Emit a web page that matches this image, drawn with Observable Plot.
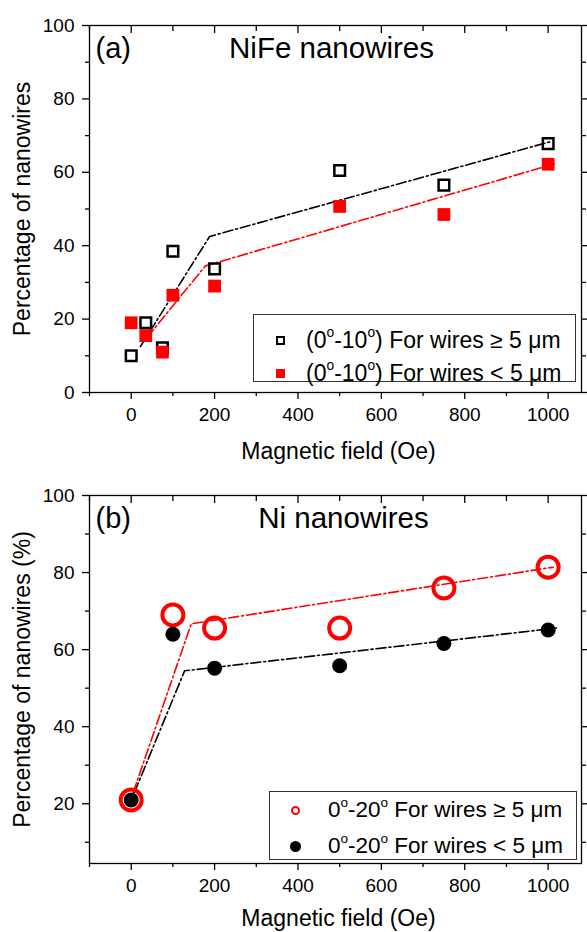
<!DOCTYPE html>
<html><head><meta charset="utf-8">
<script src="https://cdn.jsdelivr.net/npm/d3@7"></script>
<script src="https://cdn.jsdelivr.net/npm/@observablehq/plot@0.6"></script>
<style>
html,body{margin:0;padding:0;background:#fff;}
#wrap{position:relative;width:587px;height:932px;font-family:"Liberation Sans",Arial,sans-serif;color:#000;}
#wrap svg{display:block;}
.legend{position:absolute;box-sizing:border-box;border:1.4px solid #333;background:#fff;}
.row{position:absolute;left:0;white-space:nowrap;line-height:1;}
.row .mk{position:absolute;box-sizing:border-box;}
.row .tx{position:absolute;top:-0.5em;}
.row sup{font-size:0.6em;vertical-align:0;position:relative;top:-0.75em;}
</style>
</head><body>
<div id="wrap"></div>
<script>
// ---------- data ----------
const xTicks = [0, 200, 400, 600, 800, 1000];
const xMinor = [-100, 100, 300, 500, 700, 900];
const yTicksA = [0, 20, 40, 60, 80, 100];
const yTicksB = [20, 40, 60, 80, 100];
const yMinor = [10, 30, 50, 70, 90];

// panel (a) NiFe nanowires
const fieldA = [0, 35, 75, 100, 200, 500, 750, 1000];
const nifeLarge = [10, 19, 12.2, 38.5, 33.7, 60.5, 56.5, 67.8];
const nifeSmall = [19, 15.5, 11, 26.5, 29, 50.7, 48.5, 62.2];
const nifeLargeFitX = [22, 188, 1010];
const nifeLargeFitY = [12.5, 42.5, 68.5];
const nifeSmallFitX = [38, 178, 1015];
const nifeSmallFitY = [15, 34.5, 62.3];
const legendA = ["(0<sup>o</sup>-10<sup>o</sup>) For wires \u2265 5 \u03bcm", "(0<sup>o</sup>-10<sup>o</sup>) For wires &lt; 5 \u03bcm"];

// panel (b) Ni nanowires
const fieldB = [0, 100, 200, 500, 750, 1000];
const niLarge = [21, 69, 65.6, 65.6, 76, 81.4];
const niSmall = [21, 64, 55.2, 55.8, 61.6, 65.1];
const niLargeFitX = [5, 144, 1012];
const niLargeFitY = [23, 66.7, 81.4];
const niSmallFitX = [8, 128, 1020];
const niSmallFitY = [23, 54.5, 65.6];
const legendB = ["0<sup>o</sup>-20<sup>o</sup> For wires \u2265 5 \u03bcm", "0<sup>o</sup>-20<sup>o</sup> For wires &lt; 5 \u03bcm"];

const RED = "#ff0000";
const DASH = "10,3,2,3";
const zip = (xs, ys) => xs.map((x, i) => ({x, y: ys[i]}));
const blank = () => "";
const plain = d => String(d);

function frameMarks(yTicks) {
  return [
    Plot.frame({stroke: "#000", strokeWidth: 1.3}),
    Plot.axisY({ticks: yTicks, tickSize: 7, tickPadding: 8, tickFormat: plain, label: null, fontSize: 19, strokeWidth: 1.3}),
    Plot.axisY({ticks: yMinor, tickSize: 4, tickFormat: blank, label: null, strokeWidth: 1.3}),
    Plot.axisY({anchor: "right", ticks: yTicks, tickSize: 7, tickFormat: blank, label: null, strokeWidth: 1.3}),
    Plot.axisY({anchor: "right", ticks: yMinor, tickSize: 4, tickFormat: blank, label: null, strokeWidth: 1.3}),
    Plot.axisX({ticks: xTicks, tickSize: 7, tickPadding: 8, tickFormat: plain, label: null, fontSize: 19, strokeWidth: 1.3}),
    Plot.axisX({ticks: xMinor, tickSize: 4, tickFormat: blank, label: null, strokeWidth: 1.3}),
    Plot.axisX({ticks: xTicks, tickSize: 8, frameAnchor: "top", tickFormat: blank, label: null, strokeWidth: 1.3}),
    Plot.axisX({ticks: xMinor, tickSize: 6, frameAnchor: "top", tickFormat: blank, label: null, strokeWidth: 1.3})
  ];
}

function textMarks(tag, title, ylabel, titleDx, xlabDy) {
  return [
    Plot.text([tag], {text: d => d, frameAnchor: "top-left", textAnchor: "start", lineAnchor: "middle", dx: 6, dy: 23, fontSize: 29}),
    Plot.text([title], {text: d => d, frameAnchor: "top", textAnchor: "middle", lineAnchor: "middle", dx: titleDx, dy: 23, fontSize: 29.5}),
    Plot.text(["Magnetic field (Oe)"], {text: d => d, frameAnchor: "bottom", textAnchor: "middle", lineAnchor: "middle", dx: 3, dy: xlabDy, fontSize: 23}),
    Plot.text([ylabel], {text: d => d, frameAnchor: "left", textAnchor: "middle", lineAnchor: "middle", rotate: -90, dx: -67, fontSize: 23})
  ];
}

const style = {fontFamily: "'Liberation Sans', Arial, sans-serif", fontSize: "19px", color: "#000", background: "#fff"};

const chartA = Plot.plot({
  width: 587, height: 470,
  marginLeft: 89, marginRight: 6, marginTop: 25, marginBottom: 78,
  x: {domain: [-100, 1080]},
  y: {domain: [0, 100]},
  style,
  marks: [
    ...frameMarks(yTicksA),
    Plot.line(zip(nifeLargeFitX, nifeLargeFitY), {x: "x", y: "y", stroke: "#000", strokeWidth: 1.6, strokeDasharray: DASH}),
    Plot.line(zip(nifeSmallFitX, nifeSmallFitY), {x: "x", y: "y", stroke: RED, strokeWidth: 1.6, strokeDasharray: DASH}),
    Plot.dot(zip(fieldA, nifeLarge), {x: "x", y: "y", symbol: "square", r: 6, stroke: "#000", strokeWidth: 2.5, fill: "none"}),
    Plot.dot(zip(fieldA, nifeSmall), {x: "x", y: "y", symbol: "square", r: 7.2, fill: RED, stroke: "none"}),
    ...textMarks("(a)", "NiFe nanowires", "Percentage of nanowires", -4, 59)
  ]
});

const chartB = Plot.plot({
  width: 587, height: 462,
  marginLeft: 89, marginRight: 6, marginTop: 25, marginBottom: 69,
  x: {domain: [-100, 1080]},
  y: {domain: [4.5, 100]},
  style,
  marks: [
    ...frameMarks(yTicksB),
    Plot.line(zip(niLargeFitX, niLargeFitY), {x: "x", y: "y", stroke: RED, strokeWidth: 1.6, strokeDasharray: DASH}),
    Plot.line(zip(niSmallFitX, niSmallFitY), {x: "x", y: "y", stroke: "#000", strokeWidth: 1.6, strokeDasharray: DASH}),
    Plot.dot(zip(fieldB, niLarge), {x: "x", y: "y", r: 10.5, stroke: RED, strokeWidth: 4, fill: "none"}),
    Plot.dot(zip(fieldB, niSmall), {x: "x", y: "y", r: 7.5, fill: "#000", stroke: "none"}),
    ...textMarks("(b)", "Ni nanowires", "Percentage of nanowires (%)", 8, 55)
  ]
});

const wrap = document.getElementById("wrap");
wrap.appendChild(chartA);
wrap.appendChild(chartB);

function legend(box, labels, markers, markerX, textX, rowYs, fontSize) {
  const div = document.createElement("div");
  div.className = "legend";
  Object.assign(div.style, {left: box[0] + "px", top: box[1] + "px", width: box[2] + "px", height: box[3] + "px", fontSize: fontSize + "px"});
  labels.forEach((lab, i) => {
    const row = document.createElement("div");
    row.className = "row";
    row.style.top = (rowYs[i] - box[1]) + "px";
    const m = markers[i];
    const mk = document.createElement("span");
    mk.className = "mk";
    Object.assign(mk.style, {left: (markerX - box[0] - m.size / 2) + "px", top: (-m.size / 2) + "px", width: m.size + "px", height: m.size + "px"}, m.css);
    const tx = document.createElement("span");
    tx.className = "tx";
    tx.style.left = (textX - box[0]) + "px";
    tx.innerHTML = lab;
    row.appendChild(mk); row.appendChild(tx);
    div.appendChild(row);
  });
  wrap.appendChild(div);
}

legend([253, 314, 323, 68], legendA,
  [{size: 9, css: {border: "2px solid #000", background: "#fff"}},
   {size: 9, css: {background: RED}}],
  279, 305, [339, 372], 23);

legend([269, 791, 308, 69], legendB,
  [{size: 9, css: {border: "2px solid " + RED, borderRadius: "50%"}},
   {size: 11, css: {background: "#000", borderRadius: "50%"}}],
  294, 327, [809, 845], 22.5);
</script>
</body></html>
